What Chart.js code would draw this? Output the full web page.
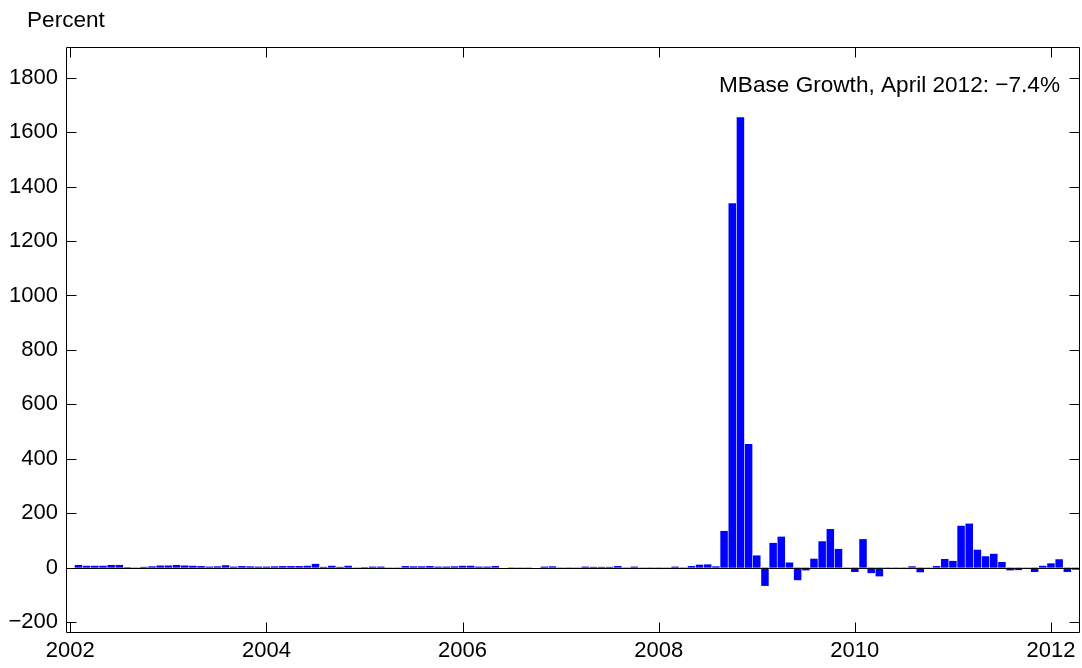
<!DOCTYPE html>
<html>
<head>
<meta charset="utf-8">
<script src="https://cdn.jsdelivr.net/npm/chart.js@4/dist/chart.umd.min.js"></script>
<style>
html,body{margin:0;padding:0;background:#fff;}
#wrap{width:1082px;height:668px;}
</style>
</head>
<body>
<div id="wrap"><canvas id="c" width="1082" height="668"></canvas></div>
<script>
// Monthly MBase growth (annualized, percent), Jan..Dec of each year
const years = [2002, 2003, 2004, 2005, 2006, 2007, 2008, 2009, 2010, 2011, 2012];
const growth2002 = [null, 10, 7, 7, 7, 10, 10, 2, 1, 3, 5, 8];
const growth2003 = [8, 10, 8, 7, 6, 4, 5, 9, 4, 6, 5, 4];
const growth2004 = [4, 5, 6, 6, 6, 7, 14, 3, 7, 3, 7, 1];
const growth2005 = [2, 4, 4, 1, 1, 6, 5, 5, 6, 4, 4, 5];
const growth2006 = [7, 7, 4, 4, 6, 0, -3, 1, 1, 0, 4, 5];
const growth2007 = [1, -3, 1, 4, 3, 3, 3, 6, -3, 4, 1, -2];
const growth2008 = [-5, 1, 4, -2, 6, 11, 12, 5, 135, 1339, 1655, 454];
const growth2009 = [45, -67, 91, 114, 19, -46, -10, 33, 97, 142, 69, 1];
const growth2010 = [-16, 105, -20, -32, -2, -5, -5, 5, -17, -1, 6, 32];
const growth2011 = [25, 154, 162, 66, 42, 51, 21, -10, -9, -1, -16, 7];
const growth2012 = [16, 31, -16, -7.4];

const xTickValues = [2002, 2004, 2006, 2008, 2010, 2012];
const yTickValues = [-200, 0, 200, 400, 600, 800, 1000, 1200, 1400, 1600, 1800];
const yAxisTitle = 'Percent';
const annotationText = 'MBase Growth, April 2012: \u22127.4%';

const yearly = [growth2002, growth2003, growth2004, growth2005, growth2006, growth2007,
                growth2008, growth2009, growth2010, growth2011, growth2012];
const points = [];
years.forEach((yr, i) => {
  yearly[i].forEach((v, m) => { points.push({ x: yr + m / 12, y: v }); });
});

const FONT_FAMILY = '"Liberation Sans", Arial, Helvetica, sans-serif';
const tickFont = { family: FONT_FAMILY, size: 22 };

const framePlugin = {
  id: 'frame',
  afterDatasetsDraw(chart) {
    const ctx = chart.ctx;
    const ca = chart.chartArea;
    const xs = chart.scales.x, ys = chart.scales.y;
    const L = Math.round(ca.left) + 0.5, R = Math.round(ca.right) - 0.5;
    const T = Math.round(ca.top) + 0.5, B = Math.round(ca.bottom) - 0.5;
    const TL = 10;
    ctx.save();
    ctx.strokeStyle = '#000';
    ctx.lineWidth = 1;
    // zero baseline
    const y0 = Math.round(ys.getPixelForValue(0)) + 0.5;
    ctx.beginPath();
    ctx.moveTo(L, y0); ctx.lineTo(R, y0);
    ctx.stroke();
    // box
    ctx.beginPath();
    ctx.rect(L, T, R - L, B - T);
    ctx.stroke();
    // inward ticks
    ctx.beginPath();
    xTickValues.forEach(v => {
      const px = Math.round(xs.getPixelForValue(v)) + 0.5;
      ctx.moveTo(px, B); ctx.lineTo(px, B - TL);
      ctx.moveTo(px, T); ctx.lineTo(px, T + TL);
    });
    yTickValues.forEach(v => {
      const py = Math.round(ys.getPixelForValue(v)) + 0.5;
      ctx.moveTo(L, py); ctx.lineTo(L + TL, py);
      ctx.moveTo(R, py); ctx.lineTo(R - TL, py);
    });
    ctx.stroke();
    // texts
    ctx.fillStyle = '#000';
    ctx.font = '22.6px ' + FONT_FAMILY;
    ctx.textBaseline = 'alphabetic';
    ctx.textAlign = 'left';
    ctx.fillText(yAxisTitle, 27, 27);
    ctx.textAlign = 'right';
    ctx.fillText(annotationText, 1060, 92);
    ctx.restore();
  }
};

new Chart(document.getElementById('c').getContext('2d'), {
  type: 'bar',
  data: {
    datasets: [{
      data: points,
      backgroundColor: '#0000ff',
      borderWidth: 0,
      barPercentage: 0.92,
      categoryPercentage: 1.0
    }]
  },
  options: {
    responsive: false,
    animation: false,
    devicePixelRatio: 1,
    layout: { padding: { left: 0, top: 47, right: 2, bottom: 0 } },
    plugins: { legend: { display: false }, tooltip: { enabled: false }, title: { display: false } },
    scales: {
      x: {
        type: 'linear',
        min: 2001.956,
        max: 2012.296,
        offset: false,
        grid: { display: false, drawTicks: false },
        border: { display: false },
        ticks: {
          font: tickFont, color: '#000', padding: 5, maxRotation: 0, autoSkip: false,
          callback: v => String(v)
        },
        afterBuildTicks: s => { s.ticks = xTickValues.map(v => ({ value: v })); },
        afterFit: s => { s.height = 35; }
      },
      y: {
        type: 'linear',
        min: -240,
        max: 1913,
        grid: { display: false, drawTicks: false },
        border: { display: false },
        ticks: {
          font: tickFont, color: '#000', padding: 8, autoSkip: false,
          callback: v => String(v).replace('-', '\u2212')
        },
        afterBuildTicks: s => { s.ticks = yTickValues.map(v => ({ value: v })); },
        afterFit: s => { s.width = 66; }
      }
    }
  },
  plugins: [framePlugin]
});
</script>
</body>
</html>
